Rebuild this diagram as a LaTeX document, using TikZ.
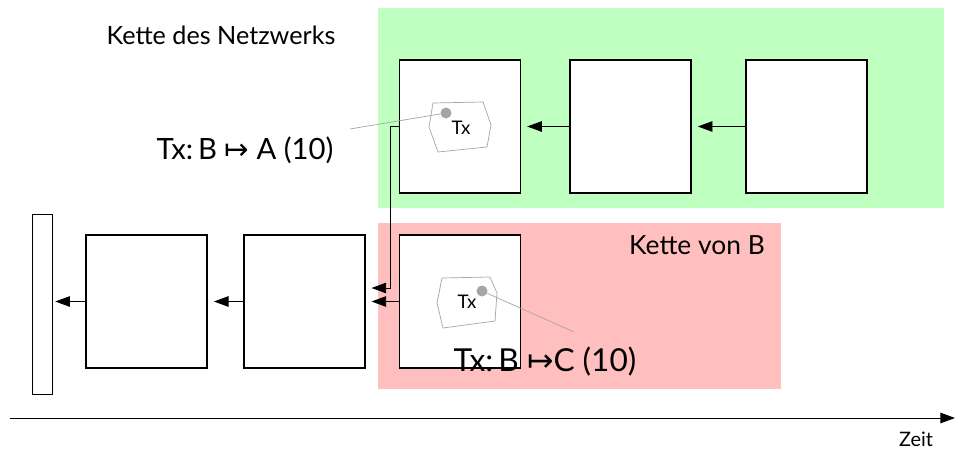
\documentclass[tikz,border=0pt]{standalone}
\usepackage{fontspec}
\setmainfont{Lato}
\newfontfamily\arrowfont{DejaVu Sans}
\usetikzlibrary{arrows.meta, positioning}
\definecolor{netgreen}{RGB}{191,255,191}
\definecolor{chainred}{RGB}{255,191,191}
\definecolor{txgray}{RGB}{165,165,165}
\newlength\pxu
\setlength\pxu{0.03cm}
\newcommand\maparrow{{\arrowfont ↦}}

\begin{document}
\begin{tikzpicture}[x=\pxu, y=-\pxu,
  block/.style={draw, line width=1.4pt, fill=white, minimum width=121\pxu, minimum height=133\pxu, inner sep=0pt},
  arr/.style={-{Triangle[length=12.5pt, width=9pt]}, line width=0.8pt, shorten >=5pt},
  txshape/.style={draw=txgray, line width=0.6pt, fill=white},
  txdot/.style={circle, fill=txgray, inner sep=0pt, minimum size=11\pxu},
  txlink/.style={txgray, line width=0.6pt},
  lbl/.style={inner sep=0pt, anchor=center}]
  \useasboundingbox (0,0) rectangle (955,450);
  % the two chains as coloured areas
  \fill[netgreen] (378,8) rectangle (944,208);
  \fill[chainred] (378,223) rectangle (781,389);
  \node[lbl, font=\fontsize{21.5}{24}\selectfont] (netlbl) at (221,35) {Kette des Netzwerks};
  \node[lbl, font=\fontsize{22.5}{24}\selectfont] (blbl) at (697,245) {Kette von B};

  % blocks of the network chain
  \node[block] (t1) at (460,126.5) {};
  \node[block, right=48\pxu of t1] (t2) {};
  \node[block, right=53\pxu of t2] (t3) {};
  % blocks of B's chain
  \node[block] (b3) at (460,301.5) {};
  \node[block, left=33\pxu of b3] (b2) {};
  \node[block, left=35\pxu of b2] (b1) {};
  \node[draw, line width=0.6pt, fill=white, minimum width=20\pxu, minimum height=180\pxu, inner sep=0pt] (gen) at (42,304) {};

  % links between blocks
  \draw[arr] (t3.west) -- (t2.east);
  \draw[arr] (t2.west) -- (t1.east);
  \draw[arr] (b3.west) -- (b2.east);
  \draw[arr] (b2.west) -- (b1.east);
  \draw[arr, shorten >=2.5pt] (b1.west) -- (gen.east |- b1.west);
  \coordinate (fork) at (390,288);
  \draw[arr] (t1.west) -| (fork) -- (b2.east |- fork);

  % transactions inside the blocks
  \draw[txshape] (t1.center) ++(-27,-23.5) -- ++(50,-1) -- ++(8,23) -- ++(-4,22) -- ++(-49,5) -- ++(-9,-25) -- cycle;
  \draw[txshape] (b3.center) ++(-18,-23.5) -- ++(48,-1) -- ++(7,16) -- ++(-2,28) -- ++(-52,7) -- ++(-6,-25) -- cycle;
  \node[font=\fontsize{16}{18}\selectfont] (txa) at (461,128) {Tx};
  \node[font=\fontsize{16}{18}\selectfont] (txc) at (467,302) {Tx};
  \node[txdot] (dota) at (446,113) {};
  \node[txdot] (dotc) at (482,291) {};

  % transaction labels
  \node[lbl, font=\fontsize{25}{27}\selectfont] (laba) at (245,150) {Tx:\,B \maparrow\ A (10)};
  \coordinate (enda) at (350,129);
  \draw[txlink] (dota) -- (enda);
  \coordinate (endc) at (574,332);
  \draw[txlink] (dotc) -- (endc);
  \node[lbl, font=\fontsize{27}{29}\selectfont] (labc) at (545,362) {Tx:\,B \maparrow C (10)};

  % time axis
  \coordinate (t0) at (10,418);
  \coordinate (tend) at (955,418);
  \draw[arr, shorten >=0pt] (t0) -- (tend);
  \node[lbl, font=\fontsize{17}{19}\selectfont] (zeit) at (916,439) {Zeit};
\end{tikzpicture}
\end{document}
